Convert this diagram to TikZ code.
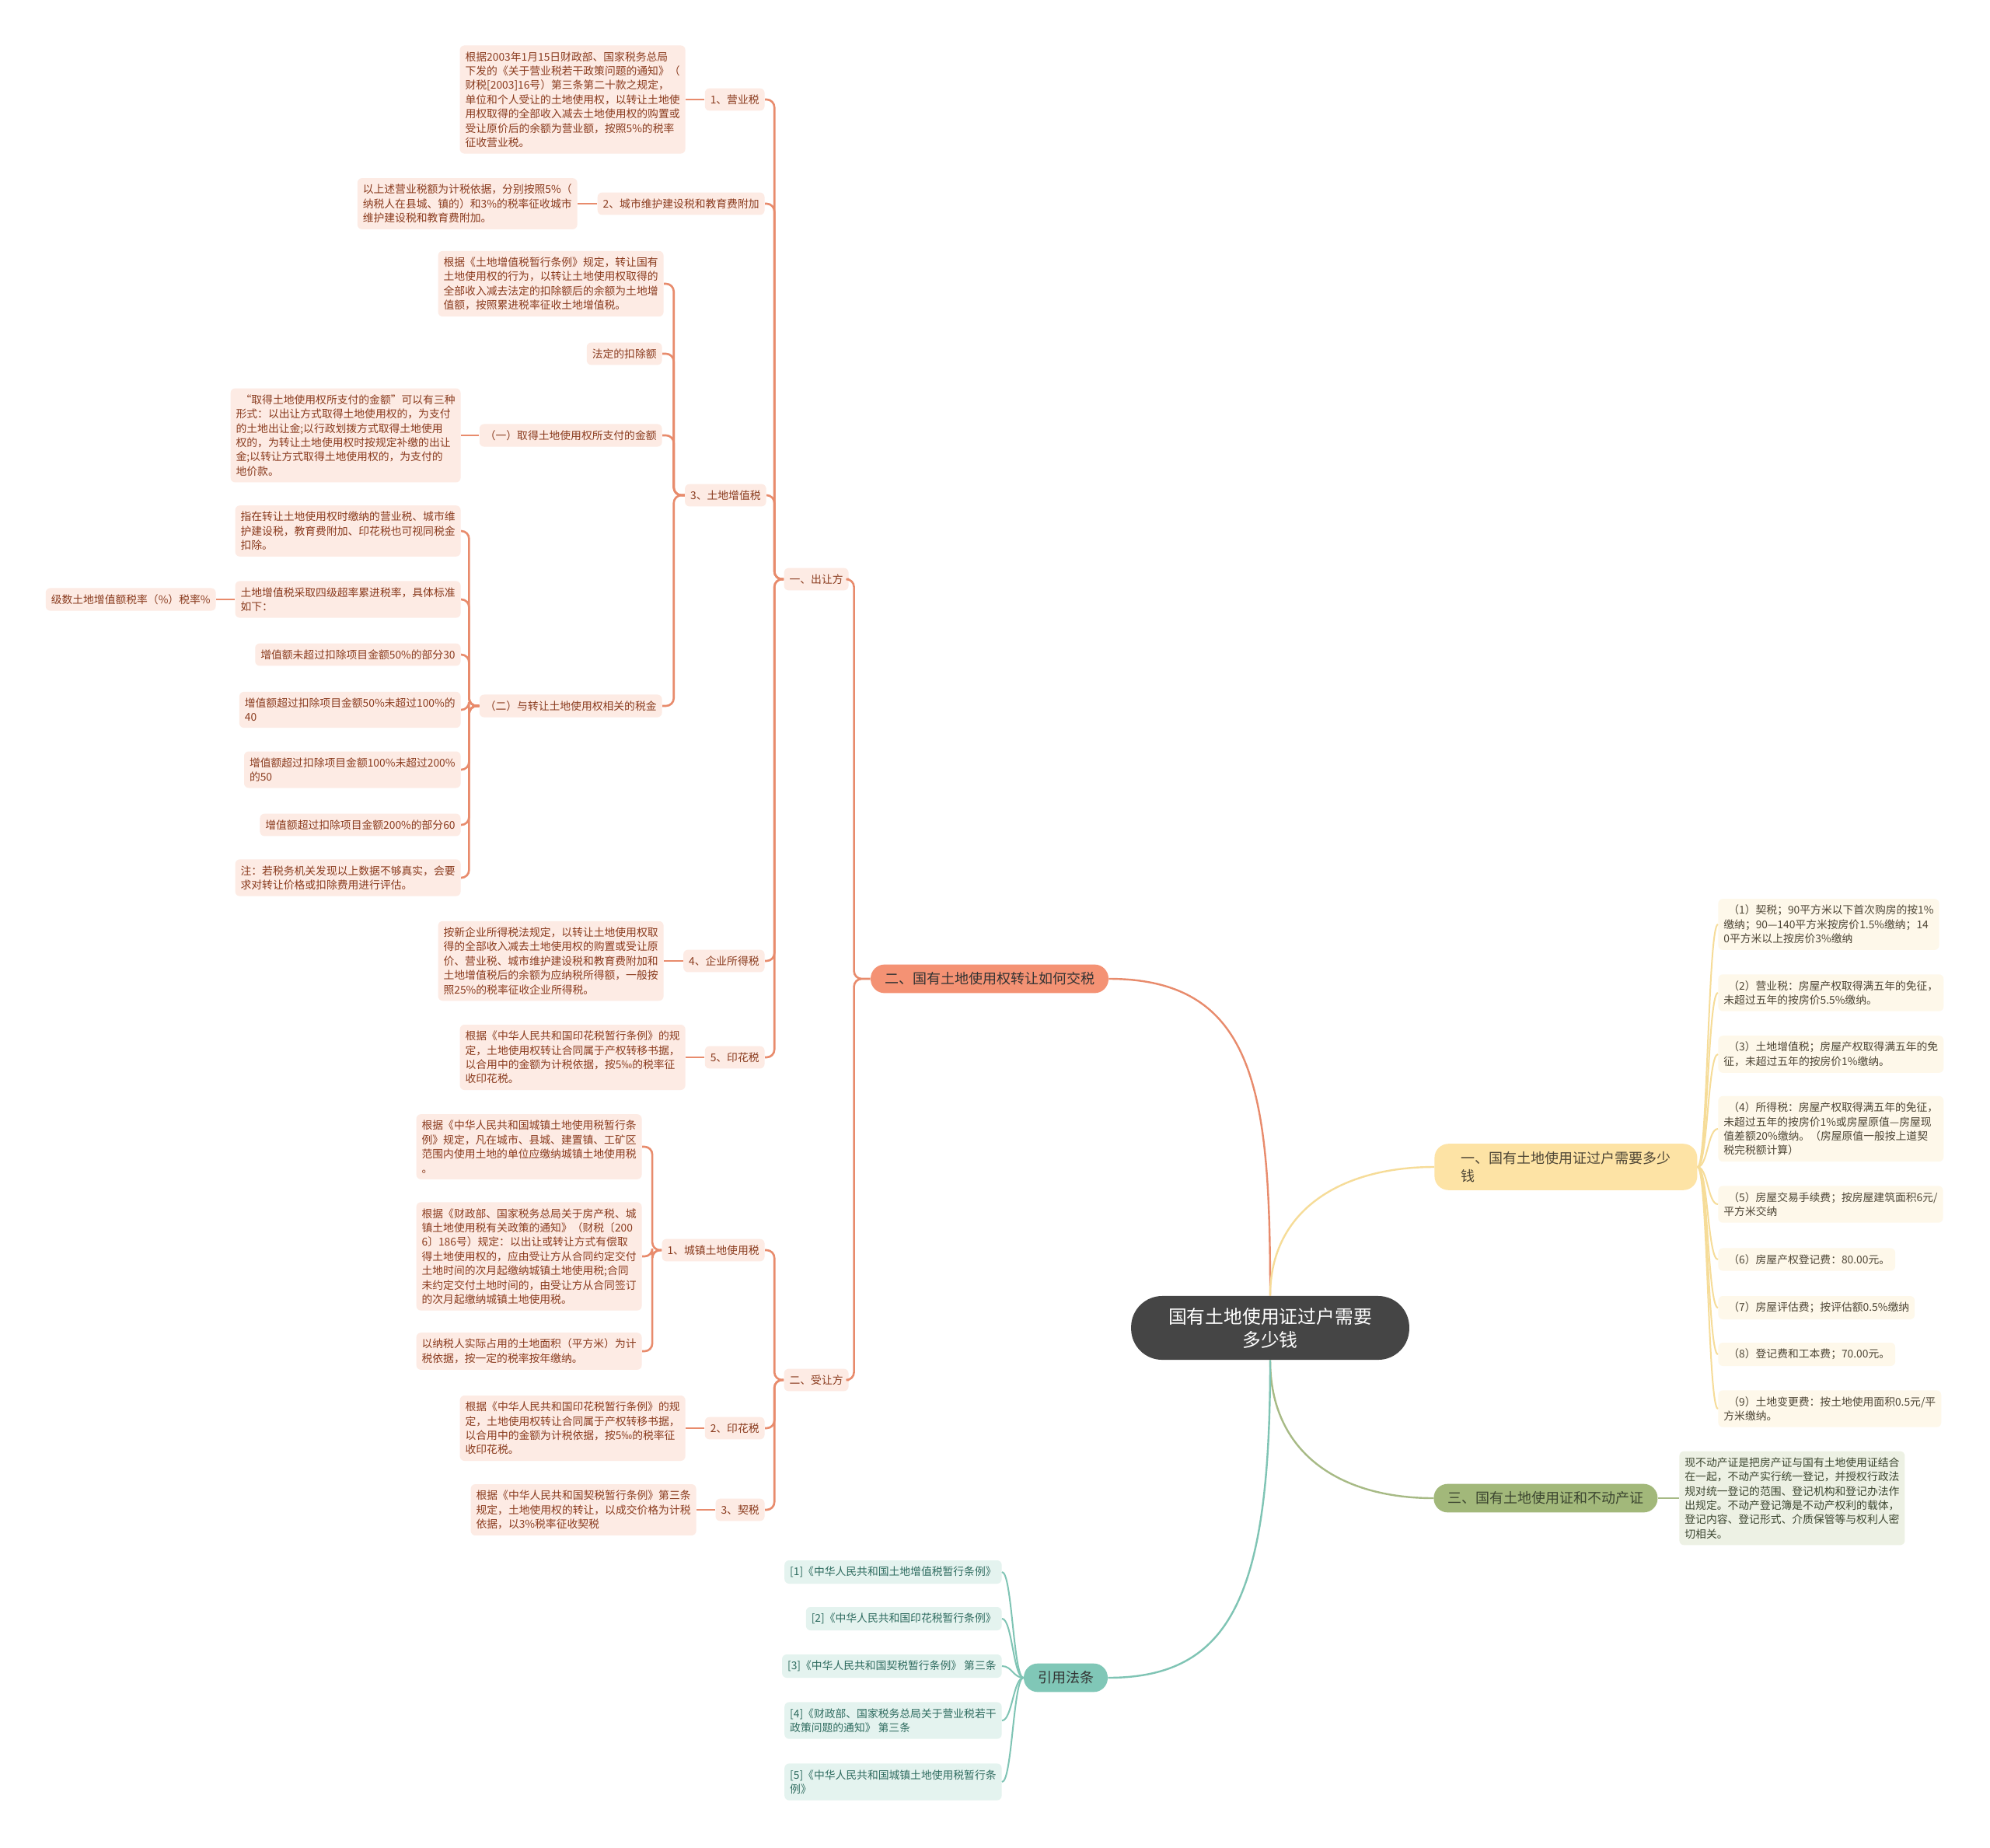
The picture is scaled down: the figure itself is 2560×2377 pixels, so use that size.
\documentclass[tikz,border=0pt]{standalone}
\usepackage{fontspec}
\setmainfont{Noto Sans CJK SC}
\usepackage{xcolor}
\usepackage{tikz}
\usetikzlibrary{positioning}

\definecolor{rootgray}{HTML}{454545}
\definecolor{taxdeep}{HTML}{F49274}
\definecolor{taxpale}{HTML}{FDEBE4}
\definecolor{taxline}{HTML}{E88B6C}
\definecolor{taxink}{HTML}{8A3B1E}
\definecolor{costdeep}{HTML}{FDE3A5}
\definecolor{costpale}{HTML}{FEF8EA}
\definecolor{costline}{HTML}{F6DC98}
\definecolor{costink}{HTML}{4D4535}
\definecolor{certdeep}{HTML}{A2B87A}
\definecolor{certpale}{HTML}{EDF1E4}
\definecolor{certline}{HTML}{A7BA85}
\definecolor{certink}{HTML}{3C4630}
\definecolor{lawdeep}{HTML}{80C7B7}
\definecolor{lawpale}{HTML}{E4F3EF}
\definecolor{lawline}{HTML}{7FC4B4}
\definecolor{lawink}{HTML}{2E6B5F}

\newcommand{\smalltxt}{\fontsize{6.9}{9.2}\selectfont}
\newcommand{\midtxt}{\fontsize{9}{11.5}\selectfont}
\newcommand{\bigtxt}{\fontsize{11.9}{15}\selectfont}

\begin{document}
\begin{tikzpicture}[
    x=0.5pt, y=-0.5pt,
    every node/.style={font=\smalltxt, inner xsep=3.5pt, inner ysep=4pt, align=left},
    rootnode/.style={fill=rootgray, text=white, font=\bigtxt, align=center, rounded corners=20pt, inner xsep=24pt, inner ysep=7.5pt},
    mainnode/.style={font=\midtxt, rounded corners=9pt, inner xsep=9pt, inner ysep=5pt},
    taxbox/.style={fill=taxpale, text=taxink, rounded corners=3pt},
    costbox/.style={fill=costpale, text=costink, rounded corners=3pt},
    certbox/.style={fill=certpale, text=certink, rounded corners=3pt},
    lawbox/.style={fill=lawpale, text=lawink, rounded corners=3pt},
    taxlink/.style={draw=taxline, line width=1.3pt, rounded corners=5pt},
    costlink/.style={draw=costline, line width=1pt},
    certlink/.style={draw=certline, line width=1pt},
    lawlink/.style={draw=lawline, line width=1pt},
    elbow/.style={to path={-- ++(-#1,0) |- (\tikztotarget)}},
    elbow/.default=12,
    swoopL/.style={to path={.. controls +(-#1,0) and +(#1,0) .. (\tikztotarget)}},
    swoopR/.style={to path={.. controls +(#1,0) and +(-#1,0) .. (\tikztotarget)}}
]
\useasboundingbox (0,0) rectangle (2560,2377);
\fill[white] (0,0) rectangle (2560,2377);

% centre and main branches
\node[rootnode] (root) at (1634,1708) {国有土地使用证过户需要\\多少钱};
\node[mainnode, fill=taxdeep, text=black!80] (tax) at (1273,1259) {二、国有土地使用权转让如何交税};
\node[mainnode, fill=costdeep, text=costink, anchor=west, inner xsep=17pt] (cost) at (1845,1501) {一、国有土地使用证过户需要多少\\钱};
\node[mainnode, fill=certdeep, text=certink, anchor=west] (cert) at (1844,1927) {三、国有土地使用证和不动产证};
\node[mainnode, fill=lawdeep, text=black!80] (law) at (1371,2158) {引用法条};

\draw[taxline, line width=1.2pt] (root.north) .. controls +(0,-260) and +(190,0) .. (tax.east);
\draw[costline, line width=1.2pt] (root.north) .. controls +(0,-110) and +(-120,0) .. (cost.west);
\draw[certline, line width=1.2pt] (root.south) .. controls +(0,120) and +(-120,0) .. (cert.west);
\draw[lawline, line width=1.2pt] (root.south) .. controls +(0,300) and +(160,0) .. (law.east);

% seller side
\node[taxbox, anchor=east] (seller) at (1092,745) {一、出让方};
\node[taxbox, anchor=east] (buyer) at (1092,1775) {二、受让方};

\node[taxbox, anchor=east] (s1) at (984,128) {1、营业税};
\node[taxbox, anchor=east] (s1t) at (882,128) {根据2003年1月15日财政部、国家税务总局\\下发的《关于营业税若干政策问题的通知》（\\财税[2003]16号）第三条第二十款之规定，\\单位和个人受让的土地使用权，以转让土地使\\用权取得的全部收入减去土地使用权的购置或\\受让原价后的余额为营业额，按照5\%的税率\\征收营业税。};
\node[taxbox, anchor=east] (s2) at (984,262) {2、城市维护建设税和教育费附加};
\node[taxbox, anchor=east] (s2t) at (743,262) {以上述营业税额为计税依据，分别按照5\%（\\纳税人在县城、镇的）和3\%的税率征收城市\\维护建设税和教育费附加。};
\node[taxbox, anchor=east] (s3) at (986,637) {3、土地增值税};
\node[taxbox, anchor=east] (s3a) at (854,365) {根据《土地增值税暂行条例》规定，转让国有\\土地使用权的行为，以转让土地使用权取得的\\全部收入减去法定的扣除额后的余额为土地增\\值额，按照累进税率征收土地增值税。};
\node[taxbox, anchor=east] (s3b) at (852,455) {法定的扣除额};
\node[taxbox, anchor=east] (s3c) at (852,560) {（一）取得土地使用权所支付的金额};
\node[taxbox, anchor=east] (s3ct) at (593,560) {\hspace{3pt}“取得土地使用权所支付的金额”可以有三种\\形式：以出让方式取得土地使用权的，为支付\\的土地出让金;以行政划拨方式取得土地使用\\权的，为转让土地使用权时按规定补缴的出让\\金;以转让方式取得土地使用权的，为支付的\\地价款。};
\node[taxbox, anchor=east] (s3d) at (852,908) {（二）与转让土地使用权相关的税金};
\node[taxbox, anchor=east] (d1) at (593,683) {指在转让土地使用权时缴纳的营业税、城市维\\护建设税，教育费附加、印花税也可视同税金\\扣除。};
\node[taxbox, anchor=east] (d2) at (593,771) {土地增值税采取四级超率累进税率，具体标准\\如下：};
\node[taxbox, anchor=east] (d2x) at (278,771) {级数土地增值额税率（\%）税率\%};
\node[taxbox, anchor=east] (d3) at (593,842) {增值额未超过扣除项目金额50\%的部分30};
\node[taxbox, anchor=east] (d4) at (593,913) {增值额超过扣除项目金额50\%未超过100\%的\\40};
\node[taxbox, anchor=east] (d5) at (593,990) {增值额超过扣除项目金额100\%未超过200\%\\的50};
\node[taxbox, anchor=east] (d6) at (593,1061) {增值额超过扣除项目金额200\%的部分60};
\node[taxbox, anchor=east] (d7) at (593,1129) {注：若税务机关发现以上数据不够真实，会要\\求对转让价格或扣除费用进行评估。};
\node[taxbox, anchor=east] (s4) at (984,1236) {4、企业所得税};
\node[taxbox, anchor=east] (s4t) at (854,1236) {按新企业所得税法规定，以转让土地使用权取\\得的全部收入减去土地使用权的购置或受让原\\价、营业税、城市维护建设税和教育费附加和\\土地增值税后的余额为应纳税所得额，一般按\\照25\%的税率征收企业所得税。};
\node[taxbox, anchor=east] (s5) at (984,1360) {5、印花税};
\node[taxbox, anchor=east] (s5t) at (882,1360) {根据《中华人民共和国印花税暂行条例》的规\\定，土地使用权转让合同属于产权转移书据，\\以合用中的金额为计税依据，按5‰的税率征\\收印花税。};

% buyer side
\node[taxbox, anchor=east] (b1) at (984,1608) {1、城镇土地使用税};
\node[taxbox, anchor=east] (b1a) at (826,1475) {根据《中华人民共和国城镇土地使用税暂行条\\例》规定，凡在城市、县城、建置镇、工矿区\\范围内使用土地的单位应缴纳城镇土地使用税\\。};
\node[taxbox, anchor=east] (b1b) at (826,1616) {根据《财政部、国家税务总局关于房产税、城\\镇土地使用税有关政策的通知》（财税〔200\\6〕186号）规定：以出让或转让方式有偿取\\得土地使用权的，应由受让方从合同约定交付\\土地时间的次月起缴纳城镇土地使用税;合同\\未约定交付土地时间的，由受让方从合同签订\\的次月起缴纳城镇土地使用税。};
\node[taxbox, anchor=east] (b1c) at (826,1738) {以纳税人实际占用的土地面积（平方米）为计\\税依据，按一定的税率按年缴纳。};
\node[taxbox, anchor=east] (b2) at (984,1837) {2、印花税};
\node[taxbox, anchor=east] (b2t) at (882,1837) {根据《中华人民共和国印花税暂行条例》的规\\定，土地使用权转让合同属于产权转移书据，\\以合用中的金额为计税依据，按5‰的税率征\\收印花税。};
\node[taxbox, anchor=east] (b3) at (984,1942) {3、契税};
\node[taxbox, anchor=east] (b3t) at (896,1942) {根据《中华人民共和国契税暂行条例》第三条\\规定，土地使用权的转让，以成交价格为计税\\依据，以3\%税率征收契税};

\draw[taxlink] (tax.west) to[elbow=21] (seller.east) (tax.west) to[elbow=21] (buyer.east);
\foreach \k in {s1,s2,s3,s4,s5} \draw[taxlink] (seller.west) to[elbow] (\k.east);
\foreach \k in {b1,b2,b3} \draw[taxlink] (buyer.west) to[elbow] (\k.east);
\foreach \k in {s3a,s3b,s3c,s3d} \draw[taxlink] (s3.west) to[elbow=14] (\k.east);
\foreach \k in {d1,d2,d3,d4,d5,d6,d7} \draw[taxlink] (s3d.west) to[elbow=13] (\k.east);
\foreach \k in {b1a,b1b,b1c} \draw[taxlink] (b1.west) to[elbow] (\k.east);
\draw[taxlink] (s1.west) -- (s1t.east);
\draw[taxlink] (s2.west) -- (s2t.east);
\draw[taxlink] (s3c.west) -- (s3ct.east);
\draw[taxlink] (d2.west) -- (d2x.east);
\draw[taxlink] (s4.west) -- (s4t.east);
\draw[taxlink] (s5.west) -- (s5t.east);
\draw[taxlink] (b2.west) -- (b2t.east);
\draw[taxlink] (b3.west) -- (b3t.east);

% house transfer costs
\node[costbox, anchor=west] (c1) at (2210,1189) {\hspace{3pt}（1）契税；90平方米以下首次购房的按1\%\\缴纳；90—140平方米按房价1.5\%缴纳；14\\0平方米以上按房价3\%缴纳};
\node[costbox, anchor=west] (c2) at (2210,1277) {\hspace{3pt}（2）营业税：房屋产权取得满五年的免征，\\未超过五年的按房价5.5\%缴纳。};
\node[costbox, anchor=west] (c3) at (2210,1356) {\hspace{3pt}（3）土地增值税；房屋产权取得满五年的免\\征，未超过五年的按房价1\%缴纳。};
\node[costbox, anchor=west] (c4) at (2210,1452) {\hspace{3pt}（4）所得税：房屋产权取得满五年的免征，\\未超过五年的按房价1\%或房屋原值—房屋现\\值差额20\%缴纳。（房屋原值一般按上道契\\税完税额计算）};
\node[costbox, anchor=west] (c5) at (2210,1549) {\hspace{3pt}（5）房屋交易手续费；按房屋建筑面积6元/\\平方米交纳};
\node[costbox, anchor=west] (c6) at (2210,1620) {\hspace{3pt}（6）房屋产权登记费：80.00元。};
\node[costbox, anchor=west] (c7) at (2210,1682) {\hspace{3pt}（7）房屋评估费；按评估额0.5\%缴纳};
\node[costbox, anchor=west] (c8) at (2210,1742) {\hspace{3pt}（8）登记费和工本费；70.00元。};
\node[costbox, anchor=west] (c9) at (2210,1812) {\hspace{3pt}（9）土地变更费：按土地使用面积0.5元/平\\方米缴纳。};
\foreach \k in {c1,c2,c3,c4,c5,c6,c7,c8,c9} \draw[costlink] (cost.east) to[swoopR=13] (\k.west);

% certificate
\node[certbox, anchor=west] (ct) at (2160,1927) {现不动产证是把房产证与国有土地使用证结合\\在一起，不动产实行统一登记，并授权行政法\\规对统一登记的范围、登记机构和登记办法作\\出规定。不动产登记簿是不动产权利的载体，\\登记内容、登记形式、介质保管等与权利人密\\切相关。};
\draw[certlink] (cert.east) -- (ct.west);

% cited laws
\node[lawbox, anchor=east] (l1) at (1289,2022) {[1]《中华人民共和国土地增值税暂行条例》};
\node[lawbox, anchor=east] (l2) at (1289,2082) {[2]《中华人民共和国印花税暂行条例》};
\node[lawbox, anchor=east] (l3) at (1289,2143) {[3]《中华人民共和国契税暂行条例》 第三条};
\node[lawbox, anchor=east] (l4) at (1289,2213) {[4]《财政部、国家税务总局关于营业税若干\\政策问题的通知》 第三条};
\node[lawbox, anchor=east] (l5) at (1289,2292) {[5]《中华人民共和国城镇土地使用税暂行条\\例》};
\foreach \k in {l1,l2,l3,l4,l5} \draw[lawlink] (law.west) to[swoopL=13] (\k.east);

\end{tikzpicture}
\end{document}
